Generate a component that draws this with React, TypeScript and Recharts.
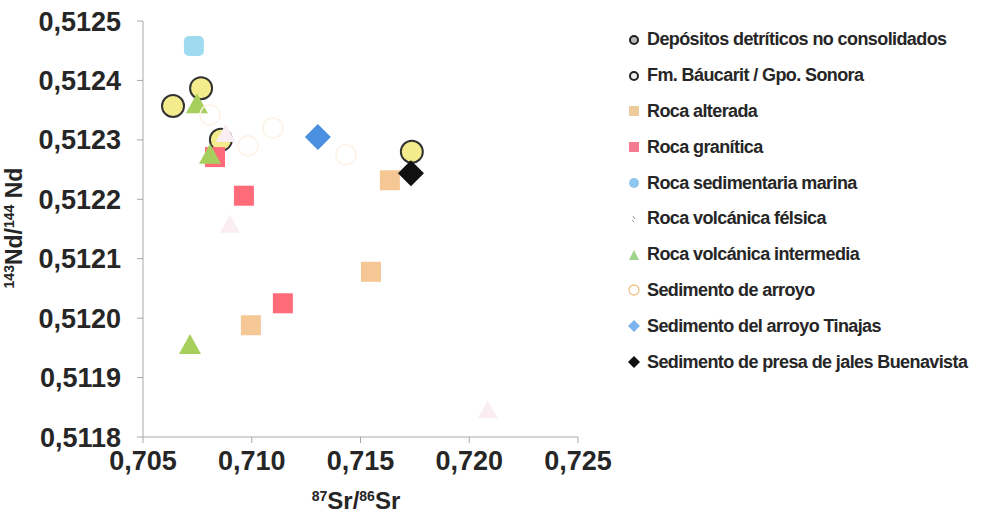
import React from "react";
import { ScatterChart, Scatter, XAxis, YAxis } from "recharts";

// 87Sr/86Sr (x) and 143Nd/144Nd (y) for each sample group
const depositosX = [0.70858, 0.71736];
const depositosY = [0.51230, 0.51228];
const baucaritX = [0.70638, 0.70767];
const baucaritY = [0.512357, 0.512387];
const alteradaX = [0.71635, 0.71548, 0.70996];
const alteradaY = [0.512232, 0.512078, 0.511988];
const graniticaX = [0.70831, 0.70964, 0.71143];
const graniticaY = [0.512271, 0.512206, 0.512025];
const marinaX = [0.70734];
const marinaY = [0.512458];
const felsicaX = [0.7090, 0.72085, 0.70880];
const felsicaY = [0.512157, 0.511845, 0.51231];
const intermediaX = [0.70748, 0.70808, 0.70716];
const intermediaY = [0.51236, 0.512275, 0.511955];
const arroyoX = [0.70983, 0.71097, 0.71433, 0.70808];
const arroyoY = [0.51229, 0.51232, 0.512275, 0.512342];
const tinajasX = [0.71304];
const tinajasY = [0.512305];
const buenavistaX = [0.71732];
const buenavistaY = [0.512244];

const xTicks = [0.705, 0.71, 0.715, 0.72, 0.725];
const yTicks = [0.5118, 0.5119, 0.512, 0.5121, 0.5122, 0.5123, 0.5124, 0.5125];

const legendNames = [
  "Depósitos detríticos no consolidados",
  "Fm. Báucarit / Gpo. Sonora",
  "Roca alterada",
  "Roca granítica",
  "Roca sedimentaria marina",
  "Roca volcánica félsica",
  "Roca volcánica intermedia",
  "Sedimento de arroyo",
  "Sedimento del arroyo Tinajas",
  "Sedimento de presa de jales Buenavista",
];

const pts = (xs: number[], ys: number[]) => xs.map((x, i) => ({ x, y: ys[i] }));

const FONT = "'Liberation Sans', Arial, sans-serif";
const TEXT = "#262626";

const ringed = (p: any) => (
  <circle cx={p.cx} cy={p.cy} r={11} fill="#F4EC8C" stroke="#333" strokeWidth={2} />
);
const square = (color: string, s = 20) => (p: any) => (
  <rect x={p.cx - s / 2} y={p.cy - s / 2} width={s} height={s} fill={color} />
);
const roundSq = (color: string) => (p: any) => (
  <rect x={p.cx - 10} y={p.cy - 10} width={20} height={20} rx={5} fill={color} />
);
const triangle = (color: string, s = 22) => (p: any) => (
  <polygon
    points={`${p.cx},${p.cy - s / 2} ${p.cx + s / 2},${p.cy + s / 2 - 2} ${p.cx - s / 2},${p.cy + s / 2 - 2}`}
    fill={color}
  />
);
const diamond = (color: string, s = 13) => (p: any) => (
  <polygon
    points={`${p.cx},${p.cy - s} ${p.cx + s},${p.cy} ${p.cx},${p.cy + s} ${p.cx - s},${p.cy}`}
    fill={color}
  />
);
const hollow = (color: string) => (p: any) => (
  <circle cx={p.cx} cy={p.cy} r={10} fill="none" stroke={color} strokeWidth={1.5} />
);

const legendMarks: React.ReactNode[] = [
  <circle cx={6} cy={6} r={4} fill="#bbb" stroke="#222" strokeWidth={2} />,
  <circle cx={6} cy={6} r={4} fill="#eee" stroke="#222" strokeWidth={2} />,
  <rect x={1} y={1} width={10} height={10} fill="#EDCB9C" />,
  <rect x={1} y={1} width={10} height={10} fill="#F57A92" />,
  <circle cx={6} cy={6} r={5} fill="#8EC6EE" />,
  <path d="M5 3 L7 6 M4 7 L6 9" stroke="#999" strokeWidth={1} />,
  <polygon points="6,1 11,11 1,11" fill="#9ED38A" />,
  <circle cx={6} cy={6} r={5} fill="none" stroke="#F0C08A" strokeWidth={1.3} />,
  <polygon points="6,0 12,6 6,12 0,6" fill="#7EB3EC" />,
  <polygon points="6,0 12,6 6,12 0,6" fill="#111" />,
];

const fmtX = (v: number) => v.toFixed(3).replace(".", ",");
const fmtY = (v: number) => v.toFixed(4).replace(".", ",");

const YLabel = () => (
  <text
    x={0}
    y={0}
    transform="translate(22,228) rotate(-90)"
    textAnchor="middle"
    fill={TEXT}
    fontFamily={FONT}
    fontWeight="bold"
    fontSize={23}
  >
    <tspan fontSize={14} dy={-8}>143</tspan>
    <tspan dy={8}>Nd/</tspan>
    <tspan fontSize={14} dy={-8}>144</tspan>
    <tspan dy={8}> Nd</tspan>
  </text>
);

const XLabel = () => (
  <text
    x={356}
    y={509}
    textAnchor="middle"
    fill={TEXT}
    fontFamily={FONT}
    fontWeight="bold"
    fontSize={24}
  >
    <tspan fontSize={14} dy={-8}>87</tspan>
    <tspan dy={8}>Sr/</tspan>
    <tspan fontSize={14} dy={-8}>86</tspan>
    <tspan dy={8}>Sr</tspan>
  </text>
);

export default function App() {
  const tickStyle = { fill: TEXT, fontFamily: FONT, fontWeight: "bold", fontSize: 27 } as any;
  return (
    <div style={{ position: "absolute", left: 0, top: 0, width: 1002, height: 514, background: "#fff" }}>
      <ScatterChart
        width={1002}
        height={514}
        margin={{ top: 21, right: 424, bottom: 0, left: 0 }}
      >
        <XAxis
          type="number"
          dataKey="x"
          domain={[0.705, 0.725]}
          ticks={xTicks}
          tickFormatter={fmtX}
          height={77}
          stroke="#a8a8a8"
          tickSize={6}
          tickMargin={8}
          tick={tickStyle}
          allowDataOverflow
          label={<XLabel />}
        />
        <YAxis
          type="number"
          dataKey="y"
          domain={[0.5118, 0.5125]}
          ticks={yTicks}
          tickFormatter={fmtY}
          width={143}
          stroke="#a8a8a8"
          tickSize={6}
          tickMargin={16}
          tick={tickStyle}
          allowDataOverflow
          label={<YLabel />}
        />
        <Scatter name={legendNames[0]} data={pts(depositosX, depositosY)} shape={ringed} isAnimationActive={false} />
        <Scatter name={legendNames[1]} data={pts(baucaritX, baucaritY)} shape={ringed} isAnimationActive={false} />
        <Scatter name={legendNames[2]} data={pts(alteradaX, alteradaY)} shape={square("#F5C795")} isAnimationActive={false} />
        <Scatter name={legendNames[3]} data={pts(graniticaX, graniticaY)} shape={square("#FF6B78")} isAnimationActive={false} />
        <Scatter name={legendNames[4]} data={pts(marinaX, marinaY)} shape={roundSq("#9FDAF0")} isAnimationActive={false} />
        <Scatter name={legendNames[5]} data={pts(felsicaX, felsicaY)} shape={triangle("#FAEEF2", 20)} isAnimationActive={false} />
        <Scatter name={legendNames[6]} data={pts(intermediaX, intermediaY)} shape={triangle("#A6CF5E")} isAnimationActive={false} />
        <Scatter name={legendNames[7]} data={pts(arroyoX, arroyoY)} shape={hollow("#FCF3E8")} isAnimationActive={false} />
        <Scatter name={legendNames[8]} data={pts(tinajasX, tinajasY)} shape={diamond("#4A8FE0")} isAnimationActive={false} />
        <Scatter name={legendNames[9]} data={pts(buenavistaX, buenavistaY)} shape={diamond("#111")} isAnimationActive={false} />
      </ScatterChart>
      <div style={{ position: "absolute", left: 628, top: 22, fontFamily: FONT, fontWeight: "bold", fontSize: 18, color: TEXT }}>
        {legendNames.map((n, i) => (
          <div key={n} style={{ height: 35.8, display: "flex", alignItems: "center", whiteSpace: "nowrap", letterSpacing: -0.6 }}>
            <svg width={12} height={12} style={{ marginRight: 7 }}>{legendMarks[i]}</svg>
            <span>{n}</span>
          </div>
        ))}
      </div>
    </div>
  );
}
